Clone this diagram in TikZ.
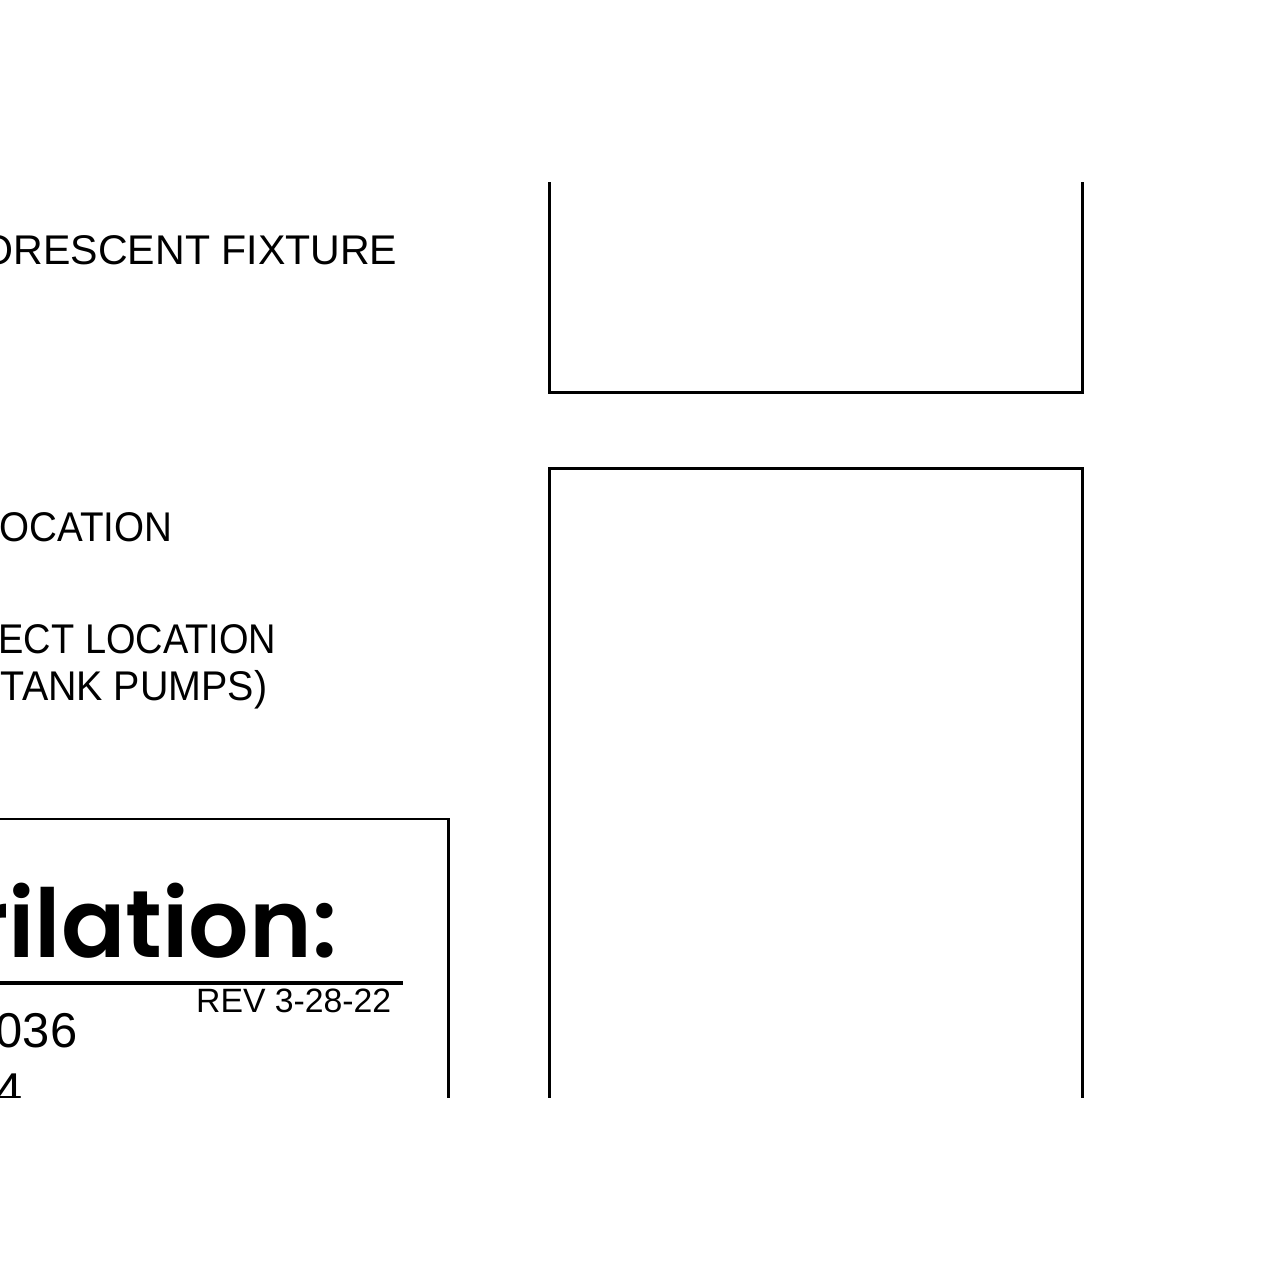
\documentclass[tikz,border=0pt]{standalone}
\usepackage{fontspec}
\setmainfont{Liberation Sans}
\newfontfamily\comicfont{Poppins}[BoldFont={* SemiBold}]
\begin{document}
\begin{tikzpicture}[x=0.01cm,y=-0.01cm,
  frame/.style={draw=black,line width=0.85pt},
  lbl/.style={inner sep=0pt,anchor=base east,font=\fontsize{11.8}{14}\selectfont},
  rev/.style={inner sep=0pt,anchor=base east,font=\fontsize{9.6}{11}\selectfont},
  num/.style={inner sep=0pt,anchor=base east,font=\fontsize{13.9}{17}\selectfont},
  title/.style={inner sep=0pt,anchor=base east,font=\comicfont\bfseries\fontsize{27}{32}\selectfont}]
\useasboundingbox[fill=white] (0,0) rectangle (1280,1280);
\begin{scope}
\clip (0,183) rectangle (1280,1097);
% right boxes
\draw[frame] (549,170) -- (549,393) -- (1082,393) -- (1082,170);
\draw[frame] (549,1110) -- (549,469) -- (1082,469) -- (1082,1110);
% left title box
\draw[frame] (-10,819) -- (448,819) -- (448,1110);
% texts
\node[lbl,xscale=0.99] (fix) at (398,265) {ORESCENT FIXTURE};
\node[lbl,xscale=0.93] (loc) at (173,542) {OCATION};
\node[lbl,xscale=0.915] (loc2) at (277,653) {ECT LOCATION};
\node[lbl,xscale=0.95] (tank) at (268,700) {TANK PUMPS)};
\node[title] (ttl) at (338,957) {rilation:};
\draw[line width=1.2pt] (-10,983) -- (403,983);
\node[rev] (rv) at (392,1012) {REV 3-28-22};
\node[num] (n1) at (78,1047) {036};
\node[num] (n2) at (23,1107) {4};
\end{scope}
\end{tikzpicture}
\end{document}
